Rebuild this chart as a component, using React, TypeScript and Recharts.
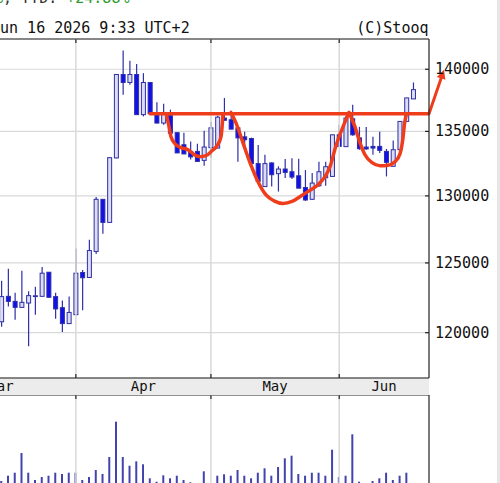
import { ComposedChart, BarChart, Bar, Line, XAxis, YAxis, CartesianGrid, ReferenceLine } from 'recharts';

// daily candles, mid-March to June 16 (index 1..62)
const opens = [
  120770, 122580, 122220, 121790, 122100, 122600, 122580, 124320, 122560, 121770, 120640,
  121270, 124300, 123940, 125840, 129740, 128000, 132920, 139570, 138920, 139570, 136330,
  138920, 136410, 135660, 136250, 134900, 133950, 133430, 133430, 132730,
  133720, 133690, 136060, 135920, 135280, 134570, 134440, 132480, 130710, 132530, 131700,
  132060, 131850, 131540, 130640, 129740, 130770, 131390, 131490,
  134730, 133800, 136000, 134490, 133770, 133820, 133820, 133430, 132270, 133560, 135790, 137590,
];
const highs = [
  123700, 124580, 122840, 124420, 122940, 123270, 124700, 124330, 122840, 122290, 122560,
  126060, 124490, 126710, 129920, 129760, 132960, 139600, 141550, 140690, 140430, 139680,
  138940, 137320, 137210, 136730, 134920, 134900, 134210, 134030, 135060,
  135760, 136250, 137670, 136650, 135360, 134980, 134510, 133930, 133170, 132580, 132270,
  132840, 132890, 132860, 131980, 131750, 132630, 132630, 134750,
  135520, 136250, 137130, 135360, 135340, 134570, 134980, 133620, 134280, 135800, 137690, 138920,
];
const lows = [
  120410, 121860, 120910, 121780, 119050, 121270, 122560, 122500, 120980, 120050, 120620,
  121250, 121580, 123930, 125660, 127160, 127980, 132900, 137930, 138740, 136320, 136190,
  136400, 135650, 135520, 134850, 133300, 133220, 132790, 132640, 132320,
  132940, 133680, 135870, 135170, 132630, 133560, 132470, 131090, 130700, 130710, 130330,
  131370, 131290, 130580, 129620, 129730, 130690, 130770, 131480,
  133800, 133790, 134650, 133560, 133560, 133170, 133310, 131490, 132260, 133550, 135780, 137580,
];
const closes = [
  122560, 122220, 121790, 122150, 122630, 122620, 124250, 122510, 121680, 120640, 121430,
  124250, 123920, 125910, 129740, 128000, 132940, 139570, 138920, 139570, 136330, 138920,
  136410, 135660, 136410, 134860, 133310, 133230, 133000, 132650, 133770,
  135280, 136130, 135880, 135180, 134490, 134340, 132480, 131100, 132480, 131620, 132060,
  131800, 131440, 130590, 129690, 130980, 131850, 132240, 134730,
  133820, 136060, 134730, 133640, 133620, 133690, 133510, 132580, 133560, 135790, 137670, 138340,
];
const volumes = [
  50, 103, 133, 330, 133, 60, 90, 103, 133, 120, 133,
  133, 60, 90, 160, 120, 290, 643, 290, 203, 247, 217,
  77, 43, 107, 77, 103, 60, 37, 20, 147,
  25, 103, 117, 103, 160, 103, 77, 133, 177, 103, 190,
  277, 303, 120, 103, 133, 133, 103, 363,
  90, 103, 517, 43, 20, 50, 77, 133, 60, 103, 133, 20,
];

const priceTicks = [120000, 125000, 130000, 135000, 140000];
const monthNames = ['Mar', 'Apr', 'May', 'Jun'];
const monthStarts = [12, 32, 51]; // first sessions of Apr, May, Jun

// hand drawn cup & handle
const resistanceI = [22.98, 64.3];
const resistanceP = [136400, 136400];
const cupLeftI = [25.35, 25.72, 26.09, 26.68, 27.57, 28.6, 29.34, 30.38, 31.27, 32.16, 32.9, 33.49, 33.71, 33.79];
const cupLeftP = [136410, 135600, 134570, 134030, 133720, 133560, 133250, 133020, 133100, 133480, 133870, 134570, 135760, 136410];
const cupBigI = [34.97, 35.71, 36.75, 37.79, 38.97, 40.16, 41.34, 42.68, 44.01, 45.34, 46.52, 47.86, 48.9, 49.64, 50.52, 51.56, 52.45];
const cupBigP = [136490, 135680, 134100, 132550, 131080, 130070, 129620, 129430, 129580, 129990, 130380, 130850, 131470, 132240, 133870, 135360, 136490];
const handleI = [52.45, 53.34, 54.08, 54.82, 55.86, 57.04, 58.23, 59.26, 60.01, 60.45, 60.67, 60.97];
const handleP = [136490, 135360, 134100, 133170, 132550, 132320, 132360, 132630, 133250, 134490, 135600, 136410];
const arrowI = [64.3, 66.52];
const arrowP = [136400, 139950];

const X_MIN = -10.2;
const X_MAX = 64.3;
const Y_MIN = 116860;
const Y_MAX = 142500;
const VOL_MAX = 910;

const FONT = '"DejaVu Sans Mono", monospace';
const FRAME = '#222';
const GRID = '#d9d9d9';
const WICK = '#2f2fa8';
const FILLED = '#1010e8';
const HOLLOW = '#dcdcf3';
const RED = '#ef3d1c';

const candles = opens.map((o, k) => ({
  i: k + 1,
  o,
  h: highs[k],
  l: lows[k],
  c: closes[k],
  range: [lows[k], highs[k]],
  v: volumes[k],
}));

const toPoints = (is: number[], ps: number[]) => is.map((i, k) => ({ i, p: ps[k] }));

const bounds = [X_MIN, ...monthStarts, X_MAX];
const monthMids = monthNames.map((_, k) => (bounds[k] + bounds[k + 1]) / 2);

const Candle = (props: any) => {
  const { x, y, width, height, payload } = props;
  const top = Math.min(y, y + height);
  const bottom = Math.max(y, y + height);
  const lh = Math.log(payload.h);
  const span = lh - Math.log(payload.l);
  const toY = (v: number) => (span > 0 ? top + ((bottom - top) * (lh - Math.log(v))) / span : top);
  const cx = x + width / 2;
  const up = payload.c >= payload.o;
  const yo = toY(payload.o);
  const yc = toY(payload.c);
  const bt = Math.min(yo, yc);
  const bb = Math.max(yo, yc);
  return (
    <g>
      <line x1={cx} x2={cx} y1={top} y2={bottom} stroke={WICK} strokeWidth={1.2} />
      <rect x={cx - 2} y={bt} width={4} height={Math.max(bb - bt, 0.8)} fill={up ? HOLLOW : FILLED} stroke={WICK} strokeWidth={1} />
    </g>
  );
};

const MonthLine = (props: any) => {
  const x = props.x1;
  const top = Math.min(props.y1, props.y2);
  const bottom = Math.max(props.y1, props.y2);
  return (
    <g>
      <line x1={x} x2={x} y1={top} y2={bottom} stroke={GRID} strokeWidth={1.5} />
      <line x1={x} x2={x} y1={top} y2={top + 4} stroke={FRAME} strokeWidth={1.2} />
      <line x1={x} x2={x} y1={bottom - 4} y2={bottom} stroke={FRAME} strokeWidth={1.2} />
    </g>
  );
};

const VolMonthLine = (props: any) => {
  const x = props.x1;
  const top = Math.min(props.y1, props.y2);
  const bottom = Math.max(props.y1, props.y2);
  return (
    <g>
      <line x1={x} x2={x} y1={top} y2={bottom} stroke={GRID} strokeWidth={1.5} />
      <line x1={x} x2={x} y1={top} y2={top + 4} stroke={FRAME} strokeWidth={1.2} />
    </g>
  );
};

const Arrow = (props: any) => {
  const { x1, y1, x2, y2 } = props;
  const dx = x2 - x1;
  const dy = y2 - y1;
  const len = Math.hypot(dx, dy) || 1;
  const ux = dx / len;
  const uy = dy / len;
  const bx = x2 - ux * 9;
  const by = y2 - uy * 9;
  return (
    <g>
      <line x1={x1} y1={y1} x2={bx} y2={by} stroke={RED} strokeWidth={3} strokeLinecap="round" />
      <polygon
        points={`${x2},${y2} ${bx - uy * 4.5},${by + ux * 4.5} ${bx + uy * 4.5},${by - ux * 4.5}`}
        fill={RED}
      />
    </g>
  );
};

const MonthTick = ({ x, y, payload }: any) => {
  const k = monthMids.indexOf(payload.value);
  return (
    <text x={x} y={y + 13} textAnchor="middle" fontFamily={FONT} fontSize={14} fill="#111">
      {monthNames[k]}
    </text>
  );
};

const PriceTick = ({ x, y, payload }: any) => (
  <g>
    <line x1={x - 4} x2={x} y1={y} y2={y} stroke={FRAME} strokeWidth={1.2} />
    <text x={x + 6} y={y} dominantBaseline="central" fontFamily={FONT} fontSize={15} fill="#111">
      {payload.value}
    </text>
  </g>
);

const redLine = (key: string, is: number[], ps: number[]) => (
  <Line
    key={key}
    data={toPoints(is, ps)}
    dataKey="p"
    type="monotone"
    stroke={RED}
    strokeWidth={3.5}
    strokeLinecap="round"
    strokeLinejoin="round"
    dot={false}
    activeDot={false}
    isAnimationActive={false}
  />
);

export default function App() {
  return (
    <div style={{ position: 'fixed', left: 0, top: 0, width: 500, height: 483, overflow: 'hidden', background: '#fff' }}>
      <div style={{ position: 'absolute', left: 0, top: 378, width: 429, height: 17, background: '#ececec' }} />
      <div style={{ position: 'absolute', left: 497, top: 0, width: 3, height: 483, background: '#e6e6e6' }} />

      <svg width={500} height={40} style={{ position: 'absolute', left: 0, top: 0 }}>
        <text x={-6} y={3} fontFamily={FONT} fontSize={15}>
          <tspan fill="#2f9a2f">%</tspan>
          <tspan fill="#333">, YTD: </tspan>
          <tspan fill="#2f9a2f">+24.88%</tspan>
        </text>
        <text x={-9} y={33} fontFamily={FONT} fontSize={15} fill="#111">Jun 16 2026 9:33 UTC+2</text>
        <text x={428.5} y={33} textAnchor="end" fontFamily={FONT} fontSize={15} fill="#111">(C)Stooq</text>
      </svg>

      <div style={{ position: 'absolute', left: -74, top: 0 }}>
        <ComposedChart width={574} height={395} data={candles} margin={{ top: 39, right: 0, bottom: 0, left: 0 }}>
          <CartesianGrid vertical={false} stroke={GRID} strokeWidth={1.2} />
          <XAxis
            dataKey="i"
            type="number"
            domain={[X_MIN, X_MAX]}
            allowDataOverflow
            ticks={monthMids}
            tick={<MonthTick />}
            tickLine={false}
            tickSize={0}
            tickMargin={0}
            height={17}
            axisLine={{ stroke: FRAME, strokeWidth: 1.2 }}
            interval={0}
          />
          <YAxis
            orientation="right"
            type="number"
            scale="log"
            domain={[Y_MIN, Y_MAX]}
            allowDataOverflow
            ticks={priceTicks}
            tick={<PriceTick />}
            tickLine={false}
            tickSize={0}
            tickMargin={0}
            width={71}
            axisLine={{ stroke: FRAME, strokeWidth: 1.2 }}
            interval={0}
          />
          <ReferenceLine y={Y_MAX} stroke={FRAME} strokeWidth={1.2} />
          {monthStarts.map((m) => (
            <ReferenceLine key={m} x={m} shape={<MonthLine />} />
          ))}
          <Bar dataKey="range" barSize={5} shape={<Candle />} isAnimationActive={false} />
          {redLine('res', resistanceI, resistanceP)}
          {redLine('cup1', cupLeftI, cupLeftP)}
          {redLine('cup2', cupBigI, cupBigP)}
          {redLine('handle', handleI, handleP)}
          <ReferenceLine
            segment={[
              { x: arrowI[0], y: arrowP[0] },
              { x: arrowI[1], y: arrowP[1] },
            ]}
            ifOverflow="visible"
            shape={<Arrow />}
          />
        </ComposedChart>
      </div>

      <div style={{ position: 'absolute', left: -74, top: 395 }}>
        <BarChart width={574} height={91} data={candles} margin={{ top: 0, right: 0, bottom: 0, left: 0 }}>
          <XAxis dataKey="i" type="number" domain={[X_MIN, X_MAX]} allowDataOverflow hide />
          <YAxis
            orientation="right"
            domain={[0, VOL_MAX]}
            allowDataOverflow
            width={71}
            tick={false}
            tickLine={false}
            axisLine={{ stroke: FRAME, strokeWidth: 1.2 }}
          />
          <ReferenceLine y={VOL_MAX} stroke={FRAME} strokeWidth={1.2} />
          {monthStarts.map((m) => (
            <ReferenceLine key={m} x={m} shape={<VolMonthLine />} />
          ))}
          <Bar dataKey="v" barSize={2} fill="#4343ad" isAnimationActive={false} />
        </BarChart>
      </div>
    </div>
  );
}
